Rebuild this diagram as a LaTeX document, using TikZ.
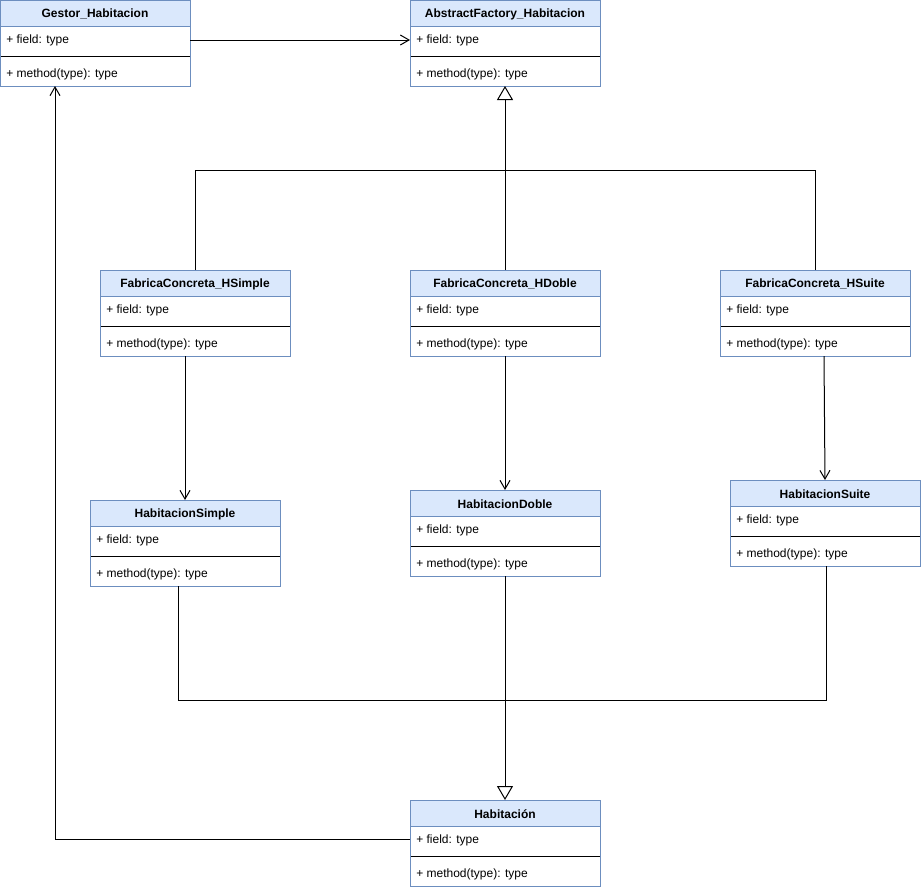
\documentclass[tikz,border=0pt]{standalone}
\usepackage{fontspec}
\setmainfont{Liberation Sans}
\usetikzlibrary{arrows.meta,calc}
\definecolor{hdrfill}{HTML}{DAE8FC}
\definecolor{hdrline}{HTML}{6C8EBF}
\tikzset{
  classbox/.style={draw=hdrline, line width=0.75pt, rectangle, minimum width=142.5pt, minimum height=64.5pt, anchor=north west, inner sep=0pt, outer sep=0pt},
  titletext/.style={font=\bfseries\fontsize{9}{10}\selectfont, inner sep=0pt},
  rowtext/.style={font=\fontsize{9}{10}\selectfont, anchor=west, inner sep=0pt},
  conn/.style={draw=black, line width=0.75pt},
  assoc/.style={conn, -{Straight Barb[length=6.5pt,width=7.5pt,line width=0.75pt]}},
  gen/.style={conn, -{Triangle[open,length=10.5pt,width=12pt,line width=0.75pt,fill=white]}}
}
\newcommand{\umlclass}[4]{%
  \fill[white] (#2,#3) rectangle ++(190,86);
  \fill[hdrfill] (#2,#3) rectangle ++(190,26);
  \draw[hdrline, line width=0.75pt] (#2,#3+26) -- ++(190,0);
  \draw[black, line width=0.75pt] (#2,#3+56) -- ++(190,0);
  \node[classbox] (#1) at (#2,#3) {};
  \node[titletext] (#1-t) at (#2+95,#3+14) {#4};
  \node[rowtext] (#1-f) at (#2+6,#3+40.5) {+ field: type};
  \node[rowtext] (#1-m) at (#2+6,#3+74.5) {+ method(type): type};
}
\begin{document}
\begin{tikzpicture}[x=0.75pt,y=-0.75pt]
\useasboundingbox (0,0) rectangle (921,890);
\umlclass{g}{0}{0}{Gestor\_Habitacion}
\umlclass{af}{410}{0}{AbstractFactory\_Habitacion}
\umlclass{fs}{100}{270}{FabricaConcreta\_HSimple}
\umlclass{fd}{410}{270}{FabricaConcreta\_HDoble}
\umlclass{fsu}{720}{270}{FabricaConcreta\_HSuite}
\umlclass{hs}{90}{500}{HabitacionSimple}
\umlclass{hd}{410}{490}{HabitacionDoble}
\umlclass{hsu}{730}{480}{HabitacionSuite}
\umlclass{hab}{410}{800}{Habitación}
\coordinate (jn) at (505,170);
\coordinate (jn2) at (505,700);
% association Gestor -> AbstractFactory
\draw[assoc] ($(g.north east)+(0,40)$) -- ($(af.north west)+(0,40)$);
% generalization factories
\draw[conn] (fs.north) |- (jn);
\draw[conn] (fsu.north) |- (jn);
\draw[gen] (fd.north) -- (af.south);
% factories -> products
\draw[assoc] ($(fs.south west)+(85,0)$) -- (hs.north);
\draw[assoc] (fd.south) -- (hd.north);
\draw[assoc] ($(fsu.south west)+(104,0)$) -- (hsu.north);
% generalization products
\draw[conn] ($(hs.south west)+(88,0)$) |- (jn2);
\draw[conn] ($(hsu.south west)+(96,0)$) |- (jn2);
\draw[gen] (hd.south) -- (hab.north);
% Habitacion -> Gestor
\draw[assoc] ($(hab.north west)+(0,39)$) -| ($(g.south west)+(55,0)$);
\end{tikzpicture}
\end{document}
